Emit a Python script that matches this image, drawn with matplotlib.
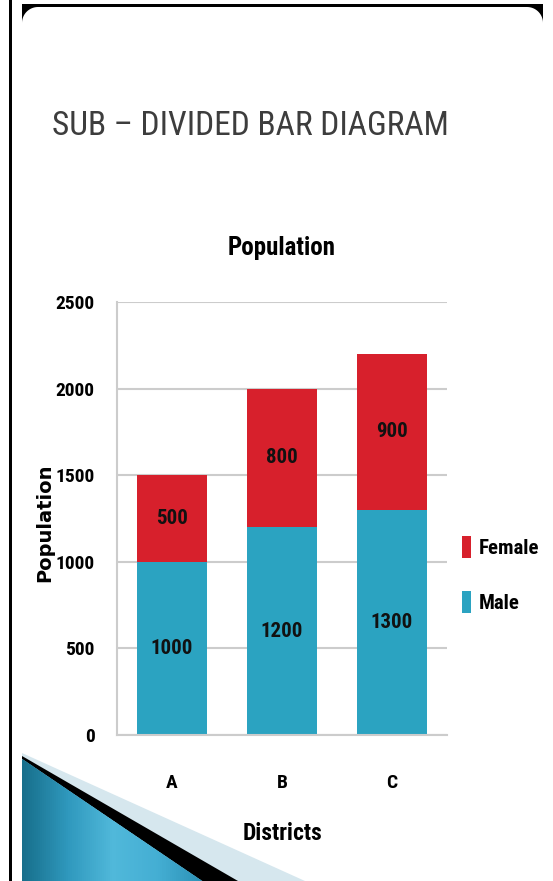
import numpy as np
import matplotlib
matplotlib.use('Agg')
import matplotlib.pyplot as plt
from matplotlib import font_manager
from matplotlib.patches import Rectangle, Polygon
from matplotlib.colors import LinearSegmentedColormap

# data
districts = ['A', 'B', 'C']
male = [1000, 1200, 1300]
female = [500, 800, 900]
yticks = [0, 500, 1000, 1500, 2000, 2500]

MALE_C = '#2ba3c1'
FEMALE_C = '#d7202c'

names = {f.name for f in font_manager.fontManager.ttflist}


def pick(*cands):
    return next((c for c in cands if c in names), 'DejaVu Sans')


NARROW = pick('Liberation Sans Narrow', 'Roboto Condensed', 'Open Sans Condensed',
              'Arial Narrow', 'Liberation Sans')

W, H = 553, 881
fig = plt.figure(figsize=(W / 100, H / 100), dpi=100)
fig.patch.set_facecolor('white')

# slide frame / decoration (pixel coordinates)
bg = fig.add_axes([0, 0, 1, 1], zorder=0)
bg.set_xlim(0, W)
bg.set_ylim(H, 0)
bg.axis('off')
bg.add_patch(Rectangle((9, 0), 3, H, fc='black', ec='none'))
r, x0, x1, y0 = 16, 22, 543, 7
bg.add_patch(Rectangle((x0, 4), x1 - x0, y0 - 4, fc='black', ec='none'))
t = np.linspace(np.pi, 1.5 * np.pi, 20)
arc = np.column_stack([x0 + r + r * np.cos(t), y0 + r + r * np.sin(t)])
bg.add_patch(Polygon(np.vstack([[[x0, y0]], arc]), closed=True, fc='black', ec='none'))
t = np.linspace(1.5 * np.pi, 2 * np.pi, 20)
arc = np.column_stack([x1 - r + r * np.cos(t), y0 + r + r * np.sin(t)])
bg.add_patch(Polygon(np.vstack([[[x1, y0]], arc]), closed=True, fc='black', ec='none'))

# bottom-left swoosh
bg.add_patch(Polygon([(22, 753), (305, H), (236, H), (22, 757)], closed=True,
                     fc='#d6e7ee', ec='none'))
bg.add_patch(Polygon([(22, 756), (238, H), (202, H), (22, 759)], closed=True,
                     fc='black', ec='none'))
cmap = LinearSegmentedColormap.from_list(
    'slide', ['#176f8b', '#2f98bd', '#50b8da', '#44aed3', '#2b91b6'])
xs = np.linspace(22, 202, 91)
for a, b in zip(xs[:-1], xs[1:]):
    ya = 759 + (a - 22) * (H - 759) / (202 - 22)
    yb = 759 + (b - 22) * (H - 759) / (202 - 22)
    c = cmap((a - 22) / 180)
    bg.add_patch(Polygon([(a, ya), (b + 0.6, yb), (b + 0.6, H), (a, H)], closed=True,
                         fc=c, ec='none'))

fig.text(250 / W, 1 - 126 / H, 'SUB – DIVIDED BAR DIAGRAM', ha='center', va='center',
         fontsize=24, color='#3d3d3d', family=NARROW)

# chart
ax = fig.add_axes([117 / W, 1 - 735 / H, 330 / W, 433 / H], zorder=1)
ax.patch.set_alpha(0)
x = np.arange(len(districts))
b1 = ax.bar(x, male, width=0.64, color=MALE_C, label='Male', zorder=2)
b2 = ax.bar(x, female, width=0.64, bottom=male, color=FEMALE_C, label='Female', zorder=2)
lab_font = dict(fontsize=15, fontweight='bold', family=NARROW, color='#111111')
ax.bar_label(b1, labels=[str(v) for v in male], label_type='center', **lab_font)
ax.bar_label(b2, labels=[str(v) for v in female], label_type='center', **lab_font)

ax.set_xlim(-0.5, 2.5)
ax.set_ylim(0, 2500)
ax.set_yticks(yticks)
ax.set_xticks(x)
ax.set_xticklabels(districts)
ax.yaxis.grid(True, color='#cccccc', lw=1.5, zorder=0)
ax.set_axisbelow(True)
for s in ['top', 'right']:
    ax.spines[s].set_visible(False)
for s in ['left', 'bottom']:
    ax.spines[s].set_color('#cccccc')
    ax.spines[s].set_linewidth(1.5)
ax.tick_params(length=0)
ax.tick_params(axis='y', pad=16)
ax.tick_params(axis='x', pad=28)
for tl in ax.get_yticklabels() + ax.get_xticklabels():
    tl.set_fontsize(14)
    tl.set_fontweight('bold')
    tl.set_family(NARROW)

ax.set_title('Population', fontsize=18, fontweight='bold', family=NARROW, pad=34)
ax.set_xlabel('Districts', fontsize=17, fontweight='bold', family=NARROW, labelpad=22)
ax.set_ylabel('Population', fontsize=14, fontweight='bold', family='DejaVu Sans')
ax.yaxis.set_label_coords(-0.19, 0.49)

ax.legend(handles=[b2, b1], loc='center left', bbox_to_anchor=(1.045, 0.37),
          frameon=False, prop=dict(family=NARROW, weight='bold', size=15),
          handlelength=0.45, handleheight=1.2, handletextpad=0.35,
          labelspacing=1.6, borderpad=0, borderaxespad=0)

fig.savefig('out.png', dpi=100)
